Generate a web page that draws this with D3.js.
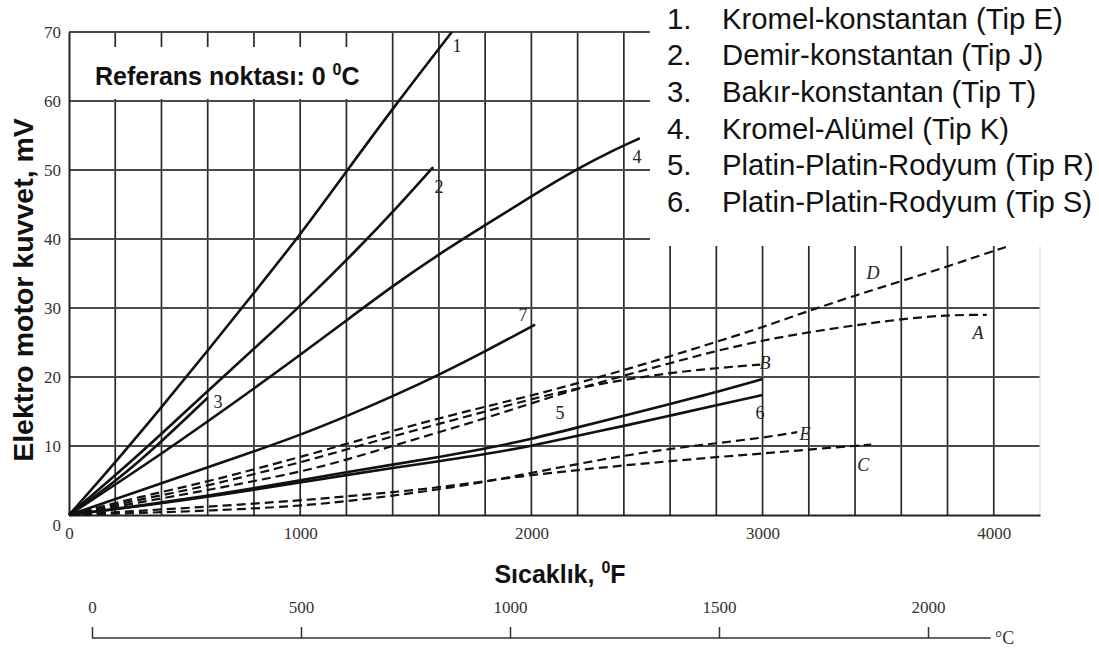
<!DOCTYPE html>
<html>
<head>
<meta charset="utf-8">
<script src="https://cdn.jsdelivr.net/npm/d3@7"></script>
<style>
    body { margin: 0; background: #fff; }
    svg { display: block; }
</style>
</head>
<body>
<svg id="chart" width="1099" height="651"></svg>
<script>
// tick labels / grid values
const fahrenheitTicks = [0, 1000, 2000, 3000, 4000];
const fahrenheitGrid = [200, 400, 600, 800, 1000, 1200, 1400, 1600, 1800, 2000, 2200, 2400,
    2600, 2800, 3000, 3200, 3400, 3600, 3800, 4000];
const emfTicks = [0, 10, 20, 30, 40, 50, 60, 70];
const celsiusTicks = [0, 500, 1000, 1500, 2000];

// curves: [temperature °F, emf mV]
const curve1 = [[0, 0], [200, 7.6], [400, 15.6], [600, 23.8], [800, 32.2], [1000, 40.6], [1200, 49.8],
    [1420, 59.8], [1656, 70]];
const curve2 = [[0, 0], [300, 8.6], [600, 18.0], [840, 25.3], [1000, 30.3], [1245, 38.4], [1431, 45.0], [1575, 50.4]];
const curve3 = [[0, 0], [200, 4.8], [400, 10.6], [600, 17.0]];
const curve4 = [[0, 0], [400, 8.8], [800, 18.3], [1000, 23.2], [1200, 28.2], [1400, 33.2], [1600, 37.8],
    [1800, 42.0], [2000, 46.2], [2200, 50.2], [2350, 52.8], [2469, 54.6]];
const curve5 = [[0, 0], [500, 2.2], [1000, 5.0], [1200, 6.2], [1400, 7.3], [1600, 8.4], [1800, 9.6], [2000, 11.0],
    [2200, 12.7], [2400, 14.4], [2600, 16.1], [2800, 17.8], [3000, 19.7]];
const curve6 = [[0, 0], [500, 2.1], [1000, 4.7], [1200, 5.8], [1400, 6.8], [1600, 7.8], [1800, 8.8], [2000, 10.0],
    [2200, 11.5], [2400, 12.9], [2600, 14.4], [2800, 15.9], [3000, 17.4]];
const curve7 = [[0, 0], [400, 4.6], [800, 9.2], [1000, 11.6], [1200, 14.3], [1400, 17.2], [1600, 20.3],
    [1800, 23.7], [2016, 27.6]];
const curveA = [[0, 0], [300, 1.8], [600, 3.6], [1000, 6.2], [1200, 8.0], [1400, 10.0], [1600, 12.0], [1800, 14.0],
    [2000, 16.2], [2200, 18.3], [2400, 20.2], [2600, 22.0], [2800, 23.8], [3000, 25.3], [3200, 26.5],
    [3400, 27.5], [3600, 28.4], [3800, 29.0], [3970, 29.0]];
const curveB = [[0, 0], [300, 2.2], [600, 4.2], [1000, 7.6], [1200, 9.5], [1400, 11.4], [1600, 13.2], [1800, 15.0],
    [2000, 16.8], [2200, 18.4], [2400, 19.6], [2600, 20.6], [2800, 21.3], [2990, 21.8]];
const curveC = [[0, 0], [300, 0.6], [600, 1.2], [1000, 2.1], [1200, 2.7], [1400, 3.3], [1600, 4.0], [1800, 4.9],
    [2000, 5.8], [2200, 6.5], [2400, 7.2], [2600, 7.8], [2800, 8.4], [3000, 8.9], [3200, 9.5], [3470, 10.2]];
const curveD = [[0, 0], [300, 2.6], [600, 4.8], [1000, 8.4], [1200, 10.3], [1400, 12.2], [1600, 14.0], [1800, 15.7],
    [2000, 17.3], [2200, 19.1], [2400, 21.0], [2600, 23.0], [2800, 25.1], [3000, 27.2], [3200, 29.6],
    [3400, 31.8], [3600, 33.9], [3800, 36.0], [4000, 38.3], [4060, 38.9]];
const curveE = [[0, 0], [300, 0.3], [600, 0.6], [1000, 1.3], [1200, 2.0], [1400, 2.8], [1600, 3.7], [1800, 4.8],
    [2000, 6.1], [2200, 7.4], [2400, 8.6], [2600, 9.6], [2800, 10.4], [3000, 11.2], [3150, 12.0]];

const solidCurves = [curve1, curve2, curve3, curve4, curve5, curve6, curve7];
const dashedCurves = [curveA, curveB, curveC, curveD, curveE];

// curve tags, placed in data units (°F, mV)
const curveTags = [
    { text: "1", f: 1678, mv: 68.0 }, { text: "2", f: 1600, mv: 47.5 }, { text: "3", f: 645, mv: 16.4 },
    { text: "4", f: 2457, mv: 51.9 }, { text: "5", f: 2124, mv: 14.8 }, { text: "6", f: 2989, mv: 14.8 },
    { text: "7", f: 1964, mv: 29.0 },
    { text: "A", f: 3932, mv: 26.4 }, { text: "B", f: 3011, mv: 22.0 }, { text: "C", f: 3435, mv: 7.2 },
    { text: "D", f: 3478, mv: 35.1 }, { text: "E", f: 3184, mv: 11.7 }
];

const legendItems = [
    "Kromel-konstantan (Tip E)",
    "Demir-konstantan (Tip J)",
    "Bakır-konstantan (Tip T)",
    "Kromel-Alümel (Tip K)",
    "Platin-Platin-Rodyum (Tip R)",
    "Platin-Platin-Rodyum (Tip S)"
];

const serif = "'Liberation Serif', 'Times New Roman', serif";
const sans = "'Liberation Sans', Arial, sans-serif";

const svg = d3.select("#chart");
svg.append("rect").attr("width", 1099).attr("height", 651).attr("fill", "#fff");

// scales
const x = d3.scaleLinear().domain([0, 4200]).range([69, 1040]);
const y = d3.scaleLinear().domain([0, 70]).range([515, 32]);
const c = d3.scaleLinear().domain([0, 2000]).range([92, 928]);

// grid
svg.append("g")
    .selectAll("line")
    .data(fahrenheitGrid)
    .join("line")
    .attr("x1", d => x(d)).attr("x2", d => x(d))
    .attr("y1", y(0)).attr("y2", y(70))
    .attr("stroke", "#2a2a2a")
    .attr("stroke-width", 1.7);

svg.append("g")
    .selectAll("line")
    .data(emfTicks.filter(d => d > 0))
    .join("line")
    .attr("x1", x(0)).attr("x2", x(4200))
    .attr("y1", d => y(d)).attr("y2", d => y(d))
    .attr("stroke", "#4a4a4a")
    .attr("stroke-width", 1.8);

// faint right border
svg.append("line")
    .attr("x1", x(4200)).attr("x2", x(4200))
    .attr("y1", y(0)).attr("y2", y(70))
    .attr("stroke", "#d8d8d8").attr("stroke-width", 1);

// x axis (°F)
const xAxis = svg.append("g")
    .attr("transform", "translate(0," + y(0) + ")")
    .call(d3.axisBottom(x).tickValues(fahrenheitTicks).tickSize(0).tickPadding(12).tickFormat(d3.format("d")));
xAxis.select(".domain").attr("stroke", "#222").attr("stroke-width", 2);
xAxis.selectAll("text").attr("font-family", serif).attr("font-size", 17).attr("fill", "#333");

// y axis (mV)
const yAxis = svg.append("g")
    .attr("transform", "translate(" + x(0) + ",0)")
    .call(d3.axisLeft(y).tickValues(emfTicks).tickSize(0).tickPadding(8));
yAxis.select(".domain").attr("stroke", "#222").attr("stroke-width", 2);
yAxis.selectAll("text").attr("font-family", serif).attr("font-size", 17).attr("fill", "#333");
yAxis.selectAll(".tick").filter(d => d === 0).select("text").attr("dy", "0.9em");

// reference note on a white patch
svg.append("rect").attr("x", 77).attr("y", 47).attr("width", 300).attr("height", 52).attr("fill", "#fff");
const ref = svg.append("text")
    .attr("x", 95).attr("y", 85)
    .attr("font-family", sans).attr("font-weight", "bold").attr("font-size", 25).attr("fill", "#111");
ref.append("tspan").text("Referans noktası: 0 ");
ref.append("tspan").attr("font-size", 16).attr("dy", -10).text("0");
ref.append("tspan").attr("dy", 10).text("C");

// curves
const line = d3.line()
    .x(d => x(d[0]))
    .y(d => y(d[1]))
    .curve(d3.curveBasis);

svg.append("g")
    .selectAll("path")
    .data(dashedCurves)
    .join("path")
    .attr("d", line)
    .attr("fill", "none")
    .attr("stroke", "#111")
    .attr("stroke-width", 2.2)
    .attr("stroke-dasharray", "9,5");

svg.append("g")
    .selectAll("path")
    .data(solidCurves)
    .join("path")
    .attr("d", line)
    .attr("fill", "none")
    .attr("stroke", "#111")
    .attr("stroke-width", 2.6);

svg.append("g")
    .selectAll("text")
    .data(curveTags)
    .join("text")
    .attr("x", d => x(d.f))
    .attr("y", d => y(d.mv))
    .attr("text-anchor", "middle")
    .attr("dominant-baseline", "central")
    .attr("font-family", serif)
    .attr("font-size", 18)
    .attr("font-style", d => isNaN(+d.text) ? "italic" : "normal")
    .attr("fill", "#222")
    .text(d => d.text);

// legend on white patch (covers the top-right of the grid)
svg.append("rect").attr("x", 650).attr("y", 0).attr("width", 449).attr("height", 246).attr("fill", "#fff");
const legend = svg.append("g")
    .selectAll("g")
    .data(legendItems)
    .join("g")
    .attr("transform", (d, i) => "translate(0," + (28.5 + i * 36.7) + ")");
legend.append("text")
    .attr("x", 667)
    .attr("font-family", sans).attr("font-size", 29.3).attr("fill", "#111")
    .text((d, i) => (i + 1) + ".");
legend.append("text")
    .attr("x", 722)
    .attr("font-family", sans).attr("font-size", 29.3).attr("fill", "#111")
    .text(d => d);

// axis titles
svg.append("text")
    .attr("transform", "translate(33,290) rotate(-90)")
    .attr("text-anchor", "middle")
    .attr("font-family", sans).attr("font-weight", "bold").attr("font-size", 28.5).attr("fill", "#111")
    .text("Elektro motor kuvvet, mV");

const xTitle = svg.append("text")
    .attr("x", 560).attr("y", 583)
    .attr("text-anchor", "middle")
    .attr("font-family", sans).attr("font-weight", "bold").attr("font-size", 25).attr("fill", "#111");
xTitle.append("tspan").text("Sıcaklık, ");
xTitle.append("tspan").attr("font-size", 16).attr("dy", -10).text("0");
xTitle.append("tspan").attr("dy", 10).text("F");

// second scale in °C
const cAxis = svg.append("g")
    .attr("transform", "translate(0,638)")
    .call(d3.axisTop(c).tickValues(celsiusTicks).tickSize(11).tickSizeOuter(0).tickPadding(14)
        .tickFormat(d3.format("d")));
cAxis.select(".domain").remove();
cAxis.selectAll(".tick line").attr("stroke", "#333").attr("stroke-width", 1.5);
cAxis.selectAll("text").attr("font-family", serif).attr("font-size", 17).attr("fill", "#333");
cAxis.append("line")
    .attr("x1", c(0)).attr("x2", c(2150))
    .attr("stroke", "#333").attr("stroke-width", 1.6);
cAxis.append("text")
    .attr("x", c(2150) + 14).attr("y", 6)
    .attr("font-family", serif).attr("font-size", 18).attr("fill", "#333")
    .text("°C");
</script>
</body>
</html>
